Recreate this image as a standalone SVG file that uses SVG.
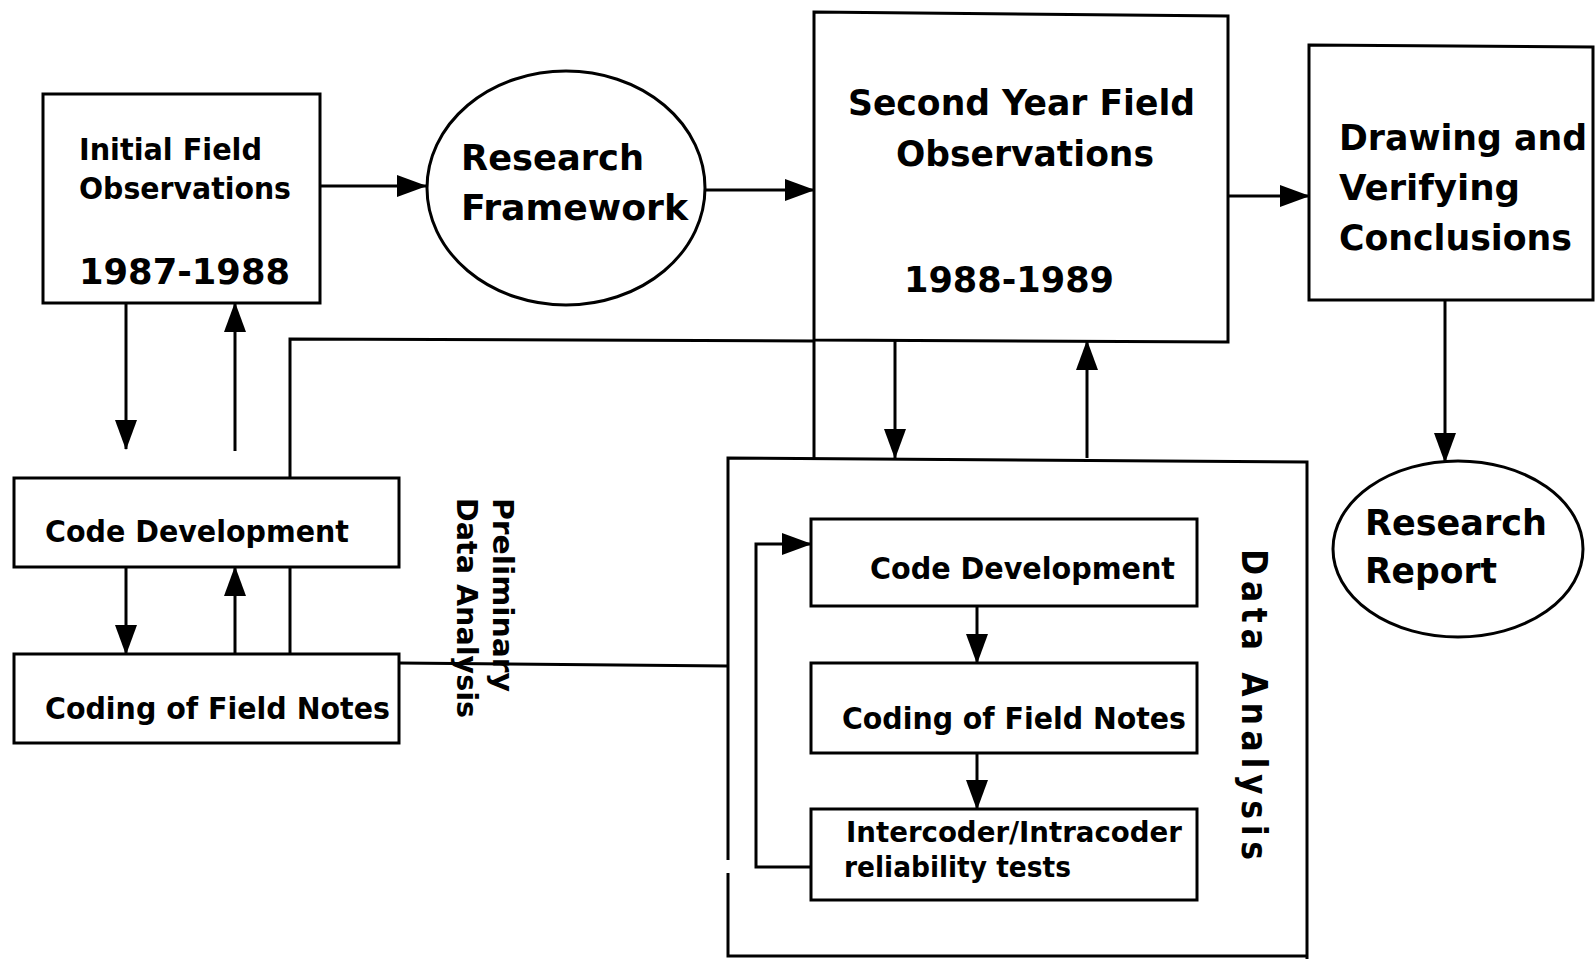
<svg xmlns="http://www.w3.org/2000/svg" width="1595" height="959" viewBox="0 0 1595 959">
  <style>
    .box { fill: none; stroke: #000; stroke-width: 3; }
    .ln { fill: none; stroke: #000; stroke-width: 3; }
    .arr { fill: none; stroke: #000; stroke-width: 3; marker-end: url(#head); }
    text { font-family: "DejaVu Sans Condensed", "DejaVu Sans", sans-serif; font-weight: bold; fill: #000; }
    .lg { font-size: 35px; }
    .md { font-size: 31px; }
    .sm { font-size: 28px; }
  </style>
  <defs>
    <marker id="head" viewBox="0 0 30 22" refX="29" refY="11" markerWidth="30" markerHeight="22" markerUnits="userSpaceOnUse" orient="auto">
      <path d="M0,0 L30,11 L0,22 Z" fill="#000"/>
    </marker>
  </defs>
  <rect width="1595" height="959" fill="#fff"/>

  <!-- connectors -->
  <g id="connectors">
    <line class="arr" x1="320" y1="186" x2="426" y2="186"/>
    <line class="arr" x1="705" y1="190" x2="814" y2="190"/>
    <line class="arr" x1="1228" y1="196" x2="1309" y2="196"/>
    <line class="arr" x1="1445" y1="300" x2="1445" y2="462"/>
    <line class="arr" x1="126" y1="303" x2="126" y2="449"/>
    <line class="arr" x1="235" y1="451" x2="235" y2="303"/>
    <line class="arr" x1="126" y1="567" x2="126" y2="654"/>
    <line class="arr" x1="235" y1="654" x2="235" y2="567"/>
    <polyline class="ln" points="290,478 290,339 814,341 814,458"/>
    <line class="ln" x1="290" y1="567" x2="290" y2="654"/>
    <line class="ln" x1="399" y1="663" x2="728" y2="666"/>
    <line class="arr" x1="895" y1="340" x2="895" y2="458"/>
    <line class="arr" x1="1087" y1="458" x2="1087" y2="341"/>
    <line class="arr" x1="977" y1="606" x2="977" y2="663"/>
    <line class="arr" x1="977" y1="753" x2="977" y2="809"/>
    <polyline class="arr" points="811,867 756,867 756,544 811,544"/>
  </g>

  <g id="initial-observations">
    <rect class="box" x="43" y="94" width="277" height="209"/>
    <text class="md" x="79" y="160" textLength="183" lengthAdjust="spacingAndGlyphs">Initial Field</text>
    <text class="md" x="79" y="199" textLength="212" lengthAdjust="spacingAndGlyphs">Observations</text>
    <text class="lg" x="79" y="284" textLength="211" lengthAdjust="spacingAndGlyphs">1987-1988</text>
  </g>

  <g id="research-framework">
    <ellipse class="box" cx="566" cy="188" rx="139" ry="117"/>
    <text class="lg" x="461" y="170" textLength="183" lengthAdjust="spacingAndGlyphs">Research</text>
    <text class="lg" x="461" y="220" textLength="227" lengthAdjust="spacingAndGlyphs">Framework</text>
  </g>

  <g id="second-year-observations">
    <path class="box" d="M814,12 L1228,16 L1228,342 L814,340 Z"/>
    <text class="lg" x="848" y="115" textLength="347" lengthAdjust="spacingAndGlyphs">Second Year Field</text>
    <text class="lg" x="896" y="166" textLength="258" lengthAdjust="spacingAndGlyphs">Observations</text>
    <text class="lg" x="904" y="292" textLength="210" lengthAdjust="spacingAndGlyphs">1988-1989</text>
  </g>

  <g id="drawing-conclusions">
    <path class="box" d="M1309,45 L1593,47 L1593,300 L1309,300 Z"/>
    <text class="lg" x="1339" y="150" textLength="248" lengthAdjust="spacingAndGlyphs">Drawing and</text>
    <text class="lg" x="1339" y="200" textLength="181" lengthAdjust="spacingAndGlyphs">Verifying</text>
    <text class="lg" x="1339" y="250" textLength="233" lengthAdjust="spacingAndGlyphs">Conclusions</text>
  </g>

  <g id="research-report">
    <ellipse class="box" cx="1458" cy="549" rx="125" ry="88"/>
    <text class="lg" x="1365" y="535" textLength="182" lengthAdjust="spacingAndGlyphs">Research</text>
    <text class="lg" x="1365" y="583" textLength="132" lengthAdjust="spacingAndGlyphs">Report</text>
  </g>

  <g id="code-development-prelim">
    <rect class="box" x="14" y="478" width="385" height="89"/>
    <text class="md" x="45" y="542" textLength="304" lengthAdjust="spacingAndGlyphs">Code Development</text>
  </g>

  <g id="coding-field-notes-prelim">
    <rect class="box" x="14" y="654" width="385" height="89"/>
    <text class="md" x="45" y="719" textLength="345" lengthAdjust="spacingAndGlyphs">Coding of Field Notes</text>
  </g>

  <g id="preliminary-label">
    <text class="sm" transform="translate(493,498) rotate(90)" textLength="194" lengthAdjust="spacingAndGlyphs">Preliminary</text>
    <text class="sm" transform="translate(457,498) rotate(90)" textLength="220" lengthAdjust="spacingAndGlyphs">Data Analysis</text>
  </g>

  <g id="data-analysis">
    <path class="box" d="M728,860 L728,458 L1307,462 L1307,959"/>
    <path class="box" d="M728,873 L728,956 L1307,956"/>
    <text class="lg" transform="translate(1242,549) rotate(90)" textLength="311" lengthAdjust="spacing">Data  Analysis</text>
  </g>

  <g id="code-development">
    <rect class="box" x="811" y="519" width="386" height="87"/>
    <text class="md" x="870" y="579" textLength="305" lengthAdjust="spacingAndGlyphs">Code Development</text>
  </g>

  <g id="coding-field-notes">
    <rect class="box" x="811" y="663" width="386" height="90"/>
    <text class="md" x="842" y="729" textLength="344" lengthAdjust="spacingAndGlyphs">Coding of Field Notes</text>
  </g>

  <g id="reliability-tests">
    <rect class="box" x="811" y="809" width="386" height="91"/>
    <text class="sm" x="846" y="842" textLength="336" lengthAdjust="spacingAndGlyphs">Intercoder/Intracoder</text>
    <text class="sm" x="844" y="877" textLength="227" lengthAdjust="spacingAndGlyphs">reliability tests</text>
  </g>
</svg>
